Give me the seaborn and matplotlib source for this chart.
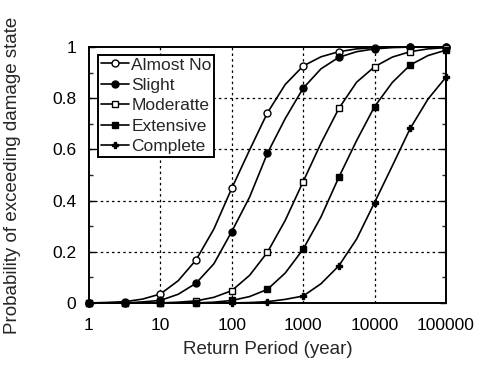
import numpy as np
import pandas as pd
import seaborn as sns
import matplotlib.pyplot as plt
from matplotlib.ticker import FixedLocator, FixedFormatter, NullLocator

# Return periods read at quarter decades; markers sit on every other point (half decades)
periods = [1, 1.78, 3.16, 5.62, 10, 17.8, 31.6, 56.2, 100, 178, 316, 562,
           1000, 1778, 3162, 5623, 10000, 17783, 31623, 56234, 100000]

almost_no = [0, 0.002, 0.005, 0.015, 0.035, 0.087, 0.168, 0.289, 0.448, 0.598, 0.743,
             0.854, 0.926, 0.962, 0.982, 0.993, 0.998, 1.0, 1.0, 1.0, 1.0]
slight = [0, 0, 0.0, 0.004, 0.01, 0.034, 0.077, 0.153, 0.279, 0.414, 0.585,
          0.721, 0.839, 0.915, 0.96, 0.982, 0.993, 0.998, 1.0, 1.0, 1.0]
moderate = [0, 0, 0, 0, 0.0, 0.003, 0.008, 0.022, 0.048, 0.108, 0.198,
            0.323, 0.474, 0.624, 0.76, 0.863, 0.923, 0.961, 0.982, 0.993, 0.998]
extensive = [0, 0, 0, 0, 0, 0, 0.0, 0.003, 0.0096, 0.025, 0.053,
             0.117, 0.21, 0.336, 0.491, 0.635, 0.767, 0.862, 0.93, 0.967, 0.988]
complete = [0, 0, 0, 0, 0, 0, 0, 0, 0.0, 0.0015, 0.005,
            0.014, 0.027, 0.075, 0.145, 0.25, 0.392, 0.536, 0.682, 0.797, 0.882]

labels = ['Almost No', 'Slight', 'Moderatte', 'Extensive', 'Complete']
series = [almost_no, slight, moderate, extensive, complete]
markers = ['o', 'o', 's', 's', 'P']
fills = ['white', 'black', 'white', 'black', 'black']

sns.set_style("ticks")
plt.rcParams['font.family'] = ['Liberation Sans', 'DejaVu Sans']

fig = plt.figure(figsize=(4.81, 3.65), dpi=100)
ax = fig.add_axes([0.185, 0.170, 0.742, 0.701])

for lab, vals, m, fc in zip(labels, series, markers, fills):
    df = pd.DataFrame({'period': periods, 'p': vals})
    sns.lineplot(data=df, x='period', y='p', ax=ax, color='black', lw=1.2,
                 marker=m, markevery=2, markersize=5,
                 markerfacecolor=fc, markeredgecolor='black',
                 markeredgewidth=1.0, label=lab, clip_on=False, zorder=3)

ax.set_xscale('log')
ax.set_xlim(1, 100000)
ax.set_ylim(0, 1)

xt = [1, 10, 100, 1000, 10000, 100000]
ax.xaxis.set_major_locator(FixedLocator(xt))
ax.xaxis.set_major_formatter(FixedFormatter([str(v) for v in xt]))
ax.xaxis.set_minor_locator(NullLocator())
ax.set_yticks([0, 0.2, 0.4, 0.6, 0.8, 1.0])
ax.set_yticklabels(['0', '0.2', '0.4', '0.6', '0.8', '1'])
ax.set_yticks(np.arange(0.1, 1.0, 0.2), minor=True)

ax.tick_params(axis='both', which='major', labelsize=12.5, direction='in',
               length=4, width=1, colors='black', right=True, top=False, pad=9)
ax.tick_params(axis='y', which='minor', direction='in', length=3, width=1, right=True)
ax.tick_params(axis='x', which='major', length=0, pad=11)

for v in [10, 100, 1000, 10000]:
    ax.axvline(v, color='black', ls=(0, (2, 2.5)), lw=0.9, zorder=0)
for v in [0.2, 0.4, 0.6, 0.8]:
    ax.axhline(v, color='black', ls=(0, (2, 2.5)), lw=0.9, zorder=0)

for s in ax.spines.values():
    s.set_color('black')
    s.set_linewidth(1.4)

ax.set_xlabel('Return Period (year)', fontsize=13.5)
ax.set_ylabel('Probability of exceeding damage state', fontsize=13.5)
ax.xaxis.set_label_coords(0.5, -0.148)
ax.yaxis.set_label_coords(-0.19, 0.5)

leg = ax.legend(loc='upper left', bbox_to_anchor=(0.026, 0.97), fontsize=12.5,
                frameon=True, fancybox=False, edgecolor='black',
                handlelength=1.6, handletextpad=0.15, labelspacing=0.3,
                borderpad=0.15, borderaxespad=0)
leg.get_frame().set_linewidth(1.4)
leg.get_frame().set_alpha(1)

fig.savefig('out.png', dpi=100)
